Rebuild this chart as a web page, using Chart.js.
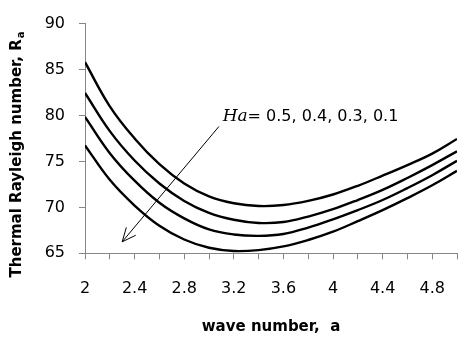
<!DOCTYPE html>
<html>
<head>
<meta charset="utf-8">
<script src="https://cdn.jsdelivr.net/npm/chart.js@4.4.1/dist/chart.umd.min.js"></script>
<style>
  html, body { margin: 0; padding: 0; background: #fff; }
  #wrap { width: 470px; height: 342px; }
</style>
</head>
<body>
<div id="wrap"><canvas id="chart" width="470" height="342"></canvas></div>
<script>
// wave number a
const waveNumbers = [2.0, 2.2, 2.4, 2.6, 2.8, 3.0, 3.2, 3.4, 3.6, 3.8, 4.0, 4.2, 4.4, 4.6, 4.8, 5.0];

// Thermal Rayleigh number for each Ha
const ha05 = [85.8, 81.0, 77.5, 74.7, 72.6, 71.2, 70.45, 70.15, 70.25, 70.7, 71.4, 72.35, 73.45, 74.6, 75.85, 77.45];
const ha04 = [82.45, 78.3, 75.1, 72.6, 70.7, 69.4, 68.65, 68.3, 68.4, 69.0, 69.8, 70.8, 71.9, 73.2, 74.6, 76.1];
const ha03 = [79.85, 75.9, 72.9, 70.5, 68.8, 67.6, 67.05, 66.9, 67.1, 67.8, 68.7, 69.7, 70.8, 72.1, 73.5, 75.07];
const ha01 = [76.75, 73.0, 70.2, 68.0, 66.5, 65.6, 65.25, 65.35, 65.75, 66.45, 67.35, 68.5, 69.7, 71.0, 72.4, 73.97];

const yTicks = [65, 70, 75, 80, 85, 90];
const xLabels = ['2', '2.4', '2.8', '3.2', '3.6', '4', '4.4', '4.8'];

// annotation: arrow from (3.08, 78.8) to (2.30, 66.25), label near the tail
const arrowFrom = [3.08, 78.8];
const arrowTo = [2.30, 66.25];
const noteAt = [3.11, 79.45];

const axisGray = '#868686';

function toPoints(ys) {
    return waveNumbers.map((x, i) => ({ x: x, y: ys[i] }));
}

function lineSet(ys) {
    return {
        data: toPoints(ys),
        borderColor: '#000',
        borderWidth: 2.4,
        pointRadius: 0,
        fill: false,
        tension: 0.4
    };
}

// titles and the Ha note with its arrow
const decorations = {
    id: 'decorations',
    afterDraw(chart) {
        const ctx = chart.ctx;
        const xs = chart.scales.x;
        const ys = chart.scales.y;
        ctx.save();
        ctx.fillStyle = '#000';

        // y title, rotated, with subscript a
        ctx.translate(17, 155);
        ctx.rotate(-Math.PI / 2);
        ctx.textBaseline = 'middle';
        const main = 'Thermal Rayleigh number, R';
        ctx.font = 'bold 15px "DejaVu Sans"';
        const w1 = ctx.measureText(main).width;
        ctx.font = 'bold 10px "DejaVu Sans"';
        const w2 = ctx.measureText('a').width;
        const start = -(w1 + w2) / 2;
        ctx.font = 'bold 15px "DejaVu Sans"';
        ctx.textAlign = 'left';
        ctx.fillText(main, start, 0);
        ctx.font = 'bold 10px "DejaVu Sans"';
        ctx.fillText('a', start + w1 + 1, 4);
        ctx.setTransform(1, 0, 0, 1, 0, 0);

        // x title
        ctx.font = 'bold 15px "DejaVu Sans"';
        ctx.textAlign = 'center';
        ctx.textBaseline = 'middle';
        ctx.fillText('wave number,  a', (chart.chartArea.left + chart.chartArea.right) / 2, 327);

        // arrow
        const x0 = xs.getPixelForValue(arrowFrom[0]);
        const y0 = ys.getPixelForValue(arrowFrom[1]);
        const x1 = xs.getPixelForValue(arrowTo[0]);
        const y1 = ys.getPixelForValue(arrowTo[1]);
        ctx.strokeStyle = '#000';
        ctx.lineWidth = 1;
        ctx.beginPath();
        ctx.moveTo(x0, y0);
        ctx.lineTo(x1, y1);
        const ang = Math.atan2(y0 - y1, x0 - x1);
        const head = 15;
        ctx.moveTo(x1 + head * Math.cos(ang - 0.42), y1 + head * Math.sin(ang - 0.42));
        ctx.lineTo(x1, y1);
        ctx.lineTo(x1 + head * Math.cos(ang + 0.42), y1 + head * Math.sin(ang + 0.42));
        ctx.stroke();

        // Ha note
        const tx = xs.getPixelForValue(noteAt[0]);
        const ty = ys.getPixelForValue(noteAt[1]);
        ctx.textAlign = 'left';
        ctx.textBaseline = 'alphabetic';
        ctx.font = 'italic 17px "DejaVu Serif"';
        ctx.fillText('Ha', tx, ty);
        const hw = ctx.measureText('Ha').width;
        ctx.font = '16px "DejaVu Sans"';
        ctx.fillText('= 0.5, 0.4, 0.3, 0.1', tx + hw, ty);
        ctx.restore();
    }
};

new Chart(document.getElementById('chart'), {
    type: 'line',
    data: {
        datasets: [lineSet(ha05), lineSet(ha04), lineSet(ha03), lineSet(ha01)]
    },
    options: {
        responsive: false,
        animation: false,
        layout: { padding: { top: 19, right: 13, left: 0, bottom: 0 } },
        plugins: { legend: { display: false }, tooltip: { enabled: false } },
        scales: {
            x: {
                type: 'linear',
                min: 2,
                max: 5,
                afterFit(scale) {
                    scale.height = 88.7;
                    scale.paddingLeft = 0;
                    scale.paddingRight = 0;
                },
                border: { color: axisGray, width: 1 },
                grid: { drawOnChartArea: false, drawTicks: true, tickLength: 6, color: axisGray },
                ticks: {
                    stepSize: 0.2,
                    autoSkip: false,
                    maxRotation: 0,
                    padding: 20,
                    color: '#000',
                    font: { family: '"DejaVu Sans"', size: 16 },
                    callback: (value, index) => (index % 2 === 0 && index / 2 < xLabels.length) ? xLabels[index / 2] : ''
                }
            },
            y: {
                min: yTicks[0],
                max: yTicks[yTicks.length - 1],
                afterFit(scale) { scale.width = 85; },
                border: { color: axisGray, width: 1 },
                grid: { drawOnChartArea: false, drawTicks: true, tickLength: 6, color: axisGray },
                ticks: {
                    stepSize: 5,
                    padding: 14,
                    color: '#000',
                    font: { family: '"DejaVu Sans"', size: 16 }
                }
            }
        }
    },
    plugins: [decorations]
});
</script>
</body>
</html>
